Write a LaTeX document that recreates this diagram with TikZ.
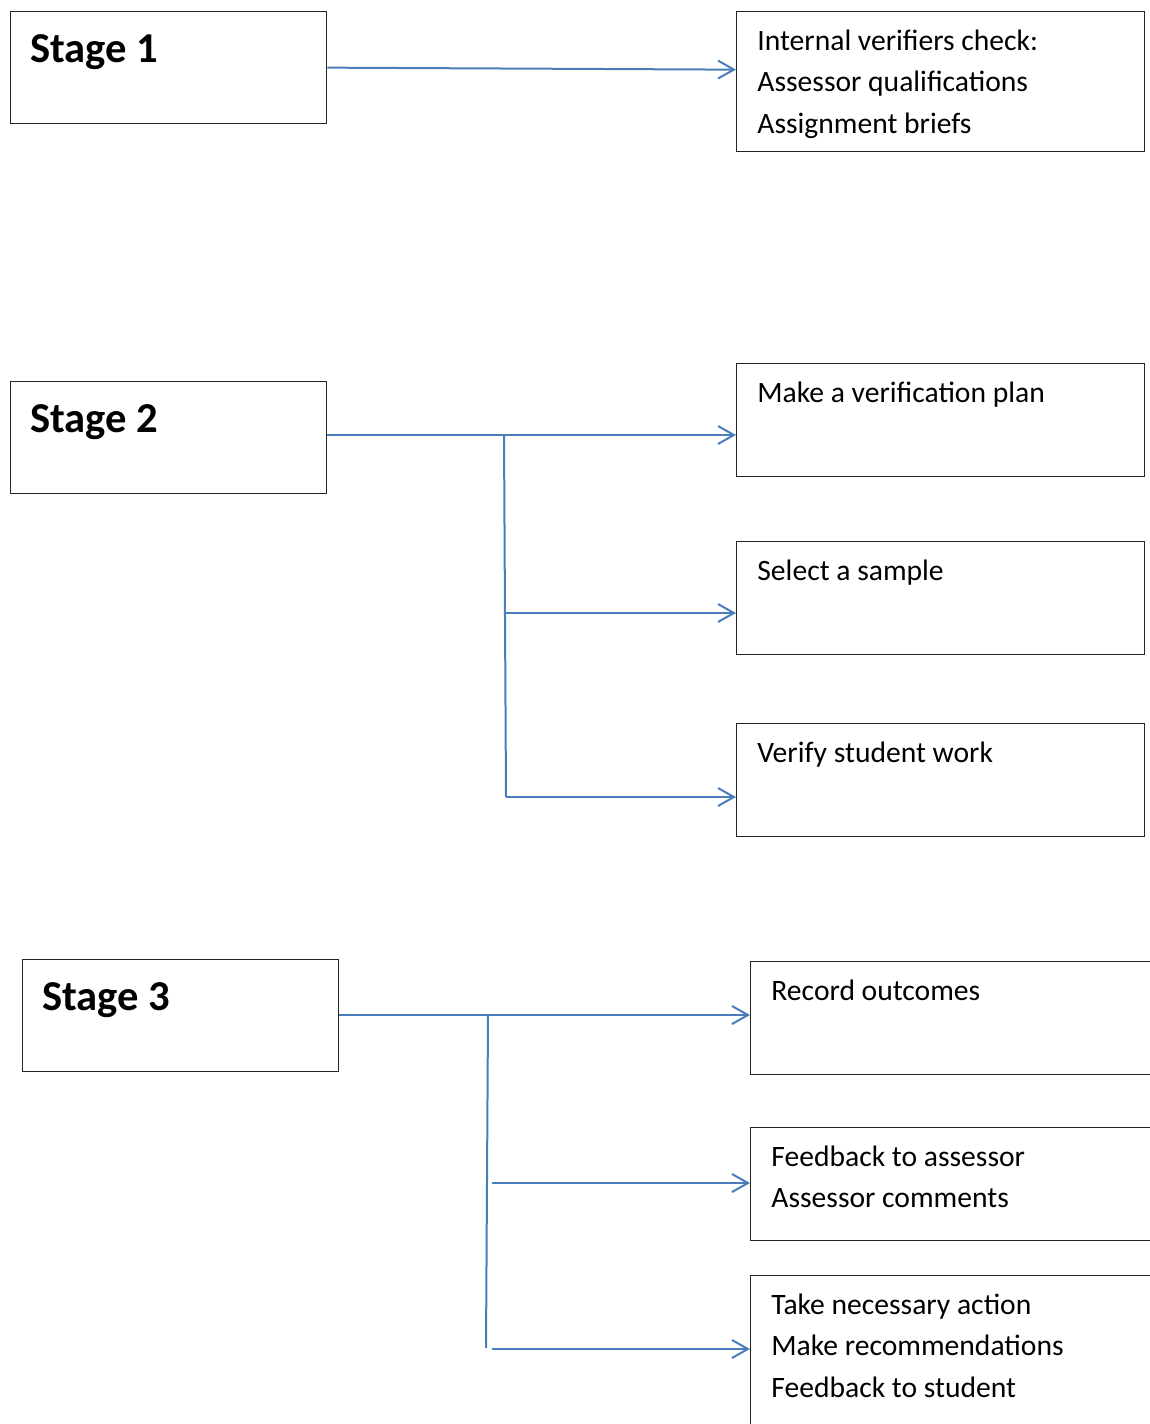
\documentclass[tikz,border=0pt]{standalone}
\usepackage{fontspec}
\setmainfont{Carlito}
\usetikzlibrary{arrows.meta}
\definecolor{arrowColor}{RGB}{74,126,187}
\tikzstyle{sheet} = [x = 0.5pt, y = -0.5pt]
\tikzstyle{boxStyle} = [draw=black!85, line width=0.65pt, inner sep=0pt, anchor=north west]
\tikzstyle{stageText} = [font=\fontsize{21.3}{26}\selectfont\bfseries, inner sep=0pt, anchor=base west]
\tikzstyle{taskText} = [font=\fontsize{14.8}{20.75}\selectfont, align=left, inner sep=0pt, anchor=north west]
\tikzstyle{forkLine} = [color=arrowColor, line width=1pt]
\tikzstyle{arrowLine} = [forkLine, -{Straight Barb[length=8pt, width=9pt]}]
\newcommand{\taskStrut}{\rule{0pt}{13pt}}
\newcommand{\stageBox}[3]{
  \node [boxStyle, minimum width=158pt, minimum height=56pt] (#1) at (#2) {};
  \node [stageText] (#1Text) at ([shift={(20,51)}]#1.north west) {#3};
}
\newcommand{\taskBox}[5]{
  \node [boxStyle, minimum width=#3, minimum height=#4] (#1) at (#2) {};
  \node [taskText] (#1Text) at ([shift={(21,13)}]#1.north west) {\taskStrut#5};
}
\begin{document}
\begin{tikzpicture}[sheet]
  \useasboundingbox (0,0) rectangle (1150,1424);
  \clip (0,0) rectangle (1150,1424);

  % stage 1
  \stageBox{stageOne}{10,11}{Stage 1}
  \taskBox{checkBox}{736,11}{204pt}{70pt}{Internal verifiers check:\\Assessor qualifications\\Assignment briefs}
  \draw [arrowLine] (stageOne.east) -- ([yshift=6pt]checkBox.west);

  % stage 2
  \stageBox{stageTwo}{10,381}{Stage 2}
  \taskBox{planBox}{736,363}{204pt}{56.5pt}{Make a verification plan}
  \taskBox{sampleBox}{736,541}{204pt}{56.5pt}{Select a sample}
  \taskBox{verifyBox}{736,723}{204pt}{56.5pt}{Verify student work}
  \coordinate (forkTwo) at (504,435);
  \coordinate (sampleFork) at (506,613);
  \coordinate (verifyFork) at (506,797);
  \draw [arrowLine] (stageTwo.east |- forkTwo) -- (planBox.west |- forkTwo);
  \draw [forkLine] (forkTwo) -- (verifyFork);
  \draw [arrowLine] (sampleFork) -- (sampleBox.west |- sampleFork);
  \draw [arrowLine] (verifyFork) -- (verifyBox.west |- verifyFork);

  % stage 3
  \stageBox{stageThree}{22,959}{Stage 3}
  \taskBox{recordBox}{750,961}{210pt}{56.5pt}{Record outcomes}
  \taskBox{feedbackBox}{750,1127}{210pt}{56.5pt}{Feedback to assessor\\Assessor comments}
  \taskBox{actionBox}{750,1275}{210pt}{100pt}{Take necessary action\\Make recommendations\\Feedback to student}
  \coordinate (forkThree) at (488,1015);
  \coordinate (forkEnd) at (486,1348);
  \coordinate (feedbackFork) at (492,1183);
  \coordinate (actionFork) at (492,1349);
  \draw [arrowLine] (stageThree.east |- forkThree) -- (recordBox.west |- forkThree);
  \draw [forkLine] (forkThree) -- (forkEnd);
  \draw [arrowLine] (feedbackFork) -- (feedbackBox.west |- feedbackFork);
  \draw [arrowLine] (actionFork) -- (actionBox.west |- actionFork);
\end{tikzpicture}
\end{document}
